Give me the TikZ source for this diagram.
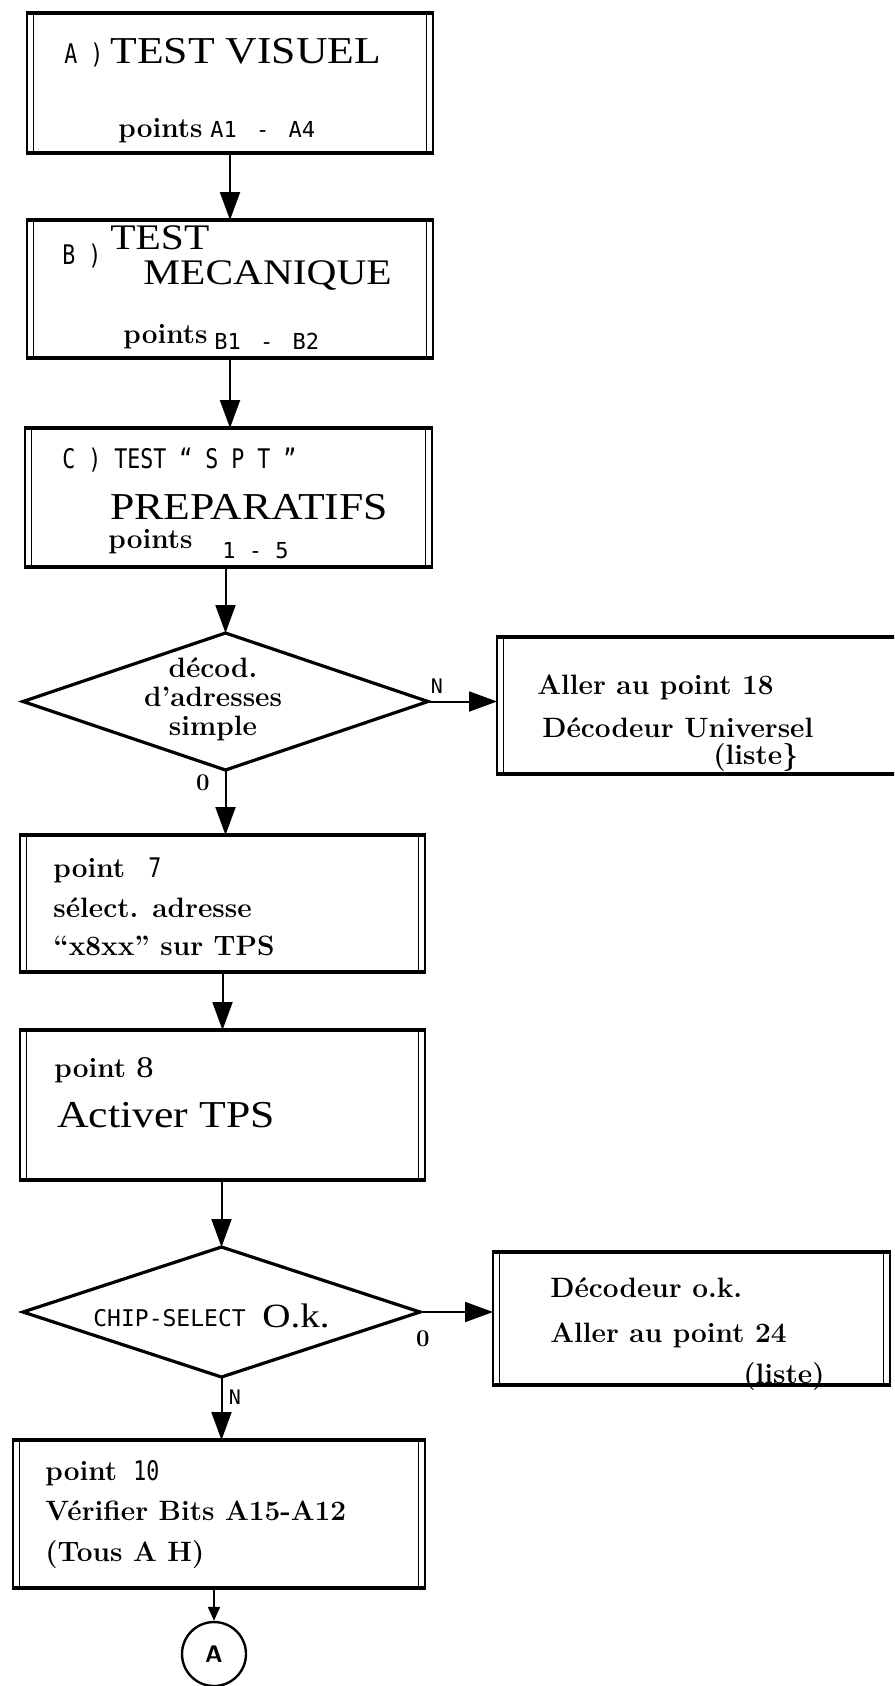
\documentclass[tikz,border=0pt]{standalone}
\usepackage{fontspec}
\newfontfamily\mono{DejaVu Sans Mono}
\newfontfamily\monoc[FakeStretch=0.8]{DejaVu Sans Mono}
\newfontfamily\titlef[FakeStretch=1.15]{Liberation Serif}
\usetikzlibrary{arrows.meta,shapes.geometric}
\tikzset{
  frameline/.style={line width=2pt},
  sideout/.style={line width=1.3pt},
  sidein/.style={line width=0.7pt},
  arr/.style={line width=1pt, -{Triangle[length=14pt,width=10pt]}},
  smallarr/.style={line width=1pt, -{Triangle[length=7pt,width=6pt]}},
  boxn/.style={rectangle, inner sep=0pt, outer sep=0pt, anchor=north west},
  dia/.style={diamond, draw, line width=1.6pt, inner sep=0pt, outer sep=0pt},
  t/.style={inner sep=0pt, anchor=base west},
  title/.style={t, font=\fontsize{19}{19}\selectfont\titlef},
  bodyb/.style={t, font=\fontsize{14}{14}\selectfont\bfseries},
  monof/.style={t, font=\fontsize{11}{11}\selectfont\mono},
  monoc/.style={t, font=\fontsize{13.5}{13.5}\selectfont\monoc},
  lbl/.style={inner sep=0pt, font=\fontsize{10}{10}\selectfont\mono},
  lblb/.style={inner sep=0pt, font=\fontsize{12}{12}\selectfont\bfseries},
}
\newcommand\frameit[1]{%
  \draw[sideout] (#1.north west) -- (#1.south west);
  \draw[sidein] ([xshift=3.2pt]#1.north west) -- ([xshift=3.2pt]#1.south west);
  \draw[sideout] (#1.north east) -- (#1.south east);
  \draw[sidein] ([xshift=-3.2pt]#1.north east) -- ([xshift=-3.2pt]#1.south east);
  \draw[frameline] ([xshift=-0.65pt]#1.north west) -- ([xshift=0.65pt]#1.north east);
  \draw[frameline] ([xshift=-0.65pt]#1.south west) -- ([xshift=0.65pt]#1.south east);
}
\begin{document}
\begin{tikzpicture}[x=0.5pt,y=-0.5pt]
\fill[white] (0,0) rectangle (894,1686);
\useasboundingbox (0,0) rectangle (894,1686);
\clip (0,0) rectangle (894,1686);

% boxes
\node[boxn, minimum width=203pt, minimum height=70pt] (A) at (27,13) {};
\node[boxn, minimum width=203pt, minimum height=69pt] (B) at (27,220) {};
\node[boxn, minimum width=203.5pt, minimum height=69.5pt] (C) at (25,428) {};
\node[dia, minimum width=202.5pt, minimum height=68.5pt] (D1) at (225.5,701.5) {};
\node[boxn, minimum width=216.5pt, minimum height=68.5pt] (B18) at (497,637) {};
\node[boxn, minimum width=202.5pt, minimum height=68.5pt] (B7) at (20,835) {};
\node[boxn, minimum width=202.5pt, minimum height=75pt] (B8) at (20,1030) {};
\node[dia, minimum width=198.5pt, minimum height=65pt] (D2) at (221.5,1312) {};
\node[boxn, minimum width=198.5pt, minimum height=66.5pt] (B24) at (493,1252) {};
\node[boxn, minimum width=206pt, minimum height=74pt] (B10) at (13,1440) {};
\node[circle, draw, line width=1.2pt, minimum size=32pt, inner sep=0pt,
      font=\fontsize{12}{12}\selectfont\sffamily\bfseries] (cA) at (214,1654) {A};

\frameit{A}\frameit{B}\frameit{C}\frameit{B18}\frameit{B7}\frameit{B8}\frameit{B24}\frameit{B10}

% connectors
\draw[arr] (A.south) -- (A.south |- B.north);
\draw[arr] (B.south) -- (B.south |- C.north);
\draw[arr] (C.south -| D1.north) -- (D1.north);
\draw[arr] (D1.south) -- (D1.south |- B7.north);
\draw[arr] (B7.south) -- (B7.south |- B8.north);
\draw[arr] (B8.south -| D2.north) -- (D2.north);
\draw[arr] (D2.south) -- (D2.south |- B10.north);
\draw[smallarr] (B10.south -| cA.north) -- (cA.north);
\draw[arr] (D1.east) -- (D1.east -| B18.west);
\draw[arr] (D2.east) -- (D2.east -| B24.west);

% connector labels
\node[lbl] (n1) at (437,686) {N};
\node[lblb] (o1) at (203,783) {0};
\node[lblb] (o2) at (423,1339) {0};
\node[lbl] (n2) at (235,1397) {N};

% box A
\node[monoc] (tA0) at (64,64) {A )};
\node[title] (tA1) at (110,64) {TEST VISUEL};
\node[bodyb] (tA2) at (118,138) {points};
\node[monof] (tA3) at (210,138) {A1\hspace{3pt} - \hspace{3pt}A4};

% box B
\node[monoc] (tB0) at (62,264) {B )};
\node[title, font=\fontsize{18}{18}\selectfont\titlef] (tB1) at (110,249) {TEST};
\node[title, font=\fontsize{18}{18}\selectfont\titlef] (tB2) at (143,284) {MECANIQUE};
\node[bodyb] (tB3) at (123,343) {points};
\node[monof] (tB4) at (214,349) {B1\hspace{3pt} - \hspace{3pt}B2};

% box C
\node[monoc] (tC0) at (62,468) {C ) TEST “ S P T ”};
\node[title] (tC1) at (110,519) {PREPARATIFS};
\node[bodyb] (tC2) at (108,548) {points};
\node[monof] (tC3) at (222,558) {1 - 5};

% diamond 1 text
\node[inner sep=0pt, align=center, font=\fontsize{14}{14.5}\selectfont\bfseries] (tD1) at (213,699)
  {décod.\\d’adresses\\simple};

% box 18
\node[bodyb] (t18a) at (537,694) {Aller au point 18};
\node[bodyb] (t18b) at (542,737) {Décodeur Universel};
\node[bodyb] (t18c) at (713,764) {(liste\}};

% box 7
\node[bodyb] (t7a) at (53,877) {point};
\node[monoc] (t7b) at (148,877) {7};
\node[bodyb] (t7c) at (53,917) {sélect. adresse};
\node[bodyb] (t7d) at (53,955) {“x8xx” sur TPS};

% box 8
\node[bodyb] (t8a) at (54,1077) {point};
\node[t, font=\fontsize{15}{15}\selectfont\titlef] (t8b) at (136,1077) {8};
\node[title] (t8c) at (57,1127) {Activer TPS};

% diamond 2 text
\node[monof, font=\fontsize{11.5}{11.5}\selectfont\mono] (tD2a) at (93,1326) {CHIP-SELECT};
\node[t, font=\fontsize{17}{17}\selectfont\titlef] (tD2b) at (262,1327) {O.k.};

% box 24
\node[bodyb] (t24a) at (550,1297) {Décodeur o.k.};
\node[bodyb] (t24b) at (550,1342) {Aller au point 24};
\node[bodyb] (t24c) at (743,1383) {(liste)};

% box 10
\node[bodyb] (t10a) at (45,1480) {point};
\node[monoc] (t10b) at (133,1480) {10};
\node[bodyb] (t10c) at (45,1520) {Vérifier Bits A15-A12};
\node[bodyb] (t10d) at (45,1561) {(Tous A H)};
\end{tikzpicture}
\end{document}
